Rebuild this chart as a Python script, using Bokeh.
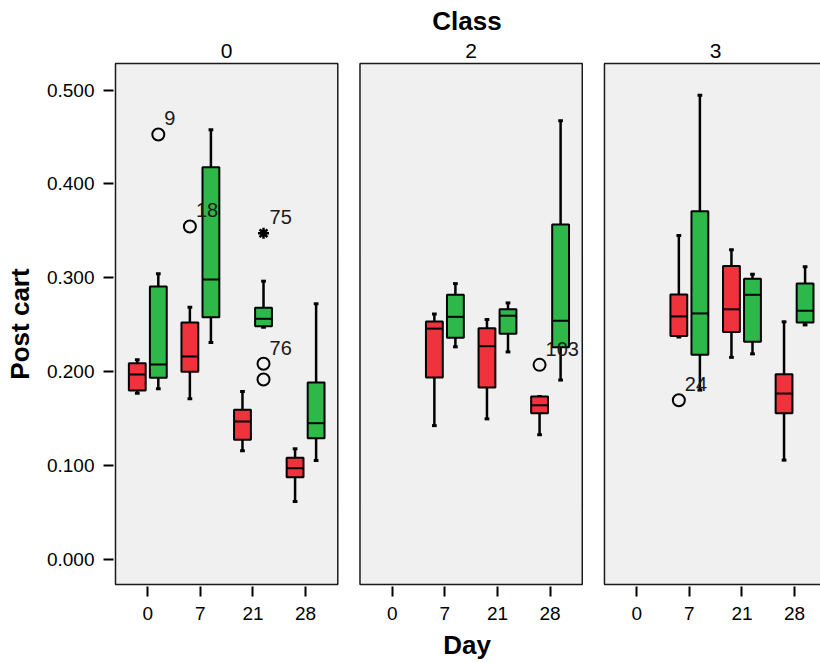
from bokeh.plotting import figure
from bokeh.models import Range1d, FixedTicker, NumeralTickFormatter, LinearAxis, ColumnDataSource
from bokeh.embed import file_html
from bokeh.resources import INLINE
from bokeh.core.properties import value

# ---------------- data ----------------
class_labels = ["0", "2", "3"]
day_labels = ["0", "7", "21", "28"]
group_colors = ["#f0323c", "#2eb84a"]

box_class = [0, 0, 0, 0, 0, 0, 0, 0, 1, 1, 1, 1, 1, 1, 2, 2, 2, 2, 2, 2]
box_day = [0, 0, 1, 1, 2, 2, 3, 3, 1, 1, 2, 2, 3, 3, 1, 1, 2, 2, 3, 3]
box_group = [0, 1, 0, 1, 0, 1, 0, 1, 0, 1, 0, 1, 0, 1, 0, 1, 0, 1, 0, 1]
whisker_low = [0.1768, 0.1814, 0.1708, 0.2308, 0.1154, 0.2471, 0.0613, 0.1050,
               0.1422, 0.2262, 0.1494, 0.2208, 0.1325, 0.1908,
               0.2367, 0.1801, 0.2150, 0.2187, 0.1054, 0.2496]
q1 = [0.1796, 0.1932, 0.1996, 0.2578, 0.1271, 0.2482, 0.0872, 0.1288,
      0.1934, 0.2359, 0.1829, 0.2402, 0.1555, 0.2258,
      0.2377, 0.2179, 0.2420, 0.2316, 0.1555, 0.2521]
median = [0.1967, 0.2074, 0.2159, 0.2980, 0.1466, 0.2561, 0.0968, 0.1448,
          0.2456, 0.2582, 0.2269, 0.2594, 0.1639, 0.2540,
          0.2586, 0.2618, 0.2662, 0.2817, 0.1764, 0.2647]
q3 = [0.2087, 0.2905, 0.2521, 0.4177, 0.1591, 0.2678, 0.1079, 0.1882,
      0.2532, 0.2817, 0.2461, 0.2662, 0.1732, 0.3566,
      0.2821, 0.3707, 0.3124, 0.2989, 0.1970, 0.2936]
whisker_high = [0.2124, 0.3041, 0.2684, 0.4576, 0.1786, 0.2962, 0.1175, 0.2721,
                0.2612, 0.2936, 0.2553, 0.2730, 0.1732, 0.4673,
                0.3448, 0.4943, 0.3296, 0.3036, 0.2529, 0.3116]

out_class = [0, 0, 0, 0, 0, 1, 2]
out_day = [0, 1, 2, 2, 2, 3, 1]
out_group = [1, 0, 1, 1, 1, 0, 0]
out_value = [0.4526, 0.3545, 0.3473, 0.2081, 0.1914, 0.2070, 0.1692]
out_label = ["9", "18", "75", "76", "", "103", "24"]
out_extreme = [False, False, True, False, False, False, False]

y_ticks = [0.0, 0.1, 0.2, 0.3, 0.4, 0.5]

# ---------------- layout constants ----------------
PANEL_STEP = 4.648
PANEL_LO, PANEL_HI = -0.614, 3.612
DODGE = 0.2
BOX_W = 0.32
CAP_HALF = 0.045
FONT = "Liberation Sans"


def xpos(c, d, g):
    return c * PANEL_STEP + d + (DODGE if g == 1 else -DODGE)


bx = [xpos(c, d, g) for c, d, g in zip(box_class, box_day, box_group)]
bcol = [group_colors[g] for g in box_group]
box_src = ColumnDataSource(dict(
    x=bx, x0=[v - BOX_W / 2 for v in bx], x1=[v + BOX_W / 2 for v in bx],
    c0=[v - CAP_HALF for v in bx], c1=[v + CAP_HALF for v in bx],
    lo=whisker_low, q1=q1, med=median, q3=q3, hi=whisker_high, color=bcol))

p = figure(width=820, height=663, output_backend="svg", toolbar_location=None,
           x_range=Range1d(-0.652, 12.789), y_range=Range1d(-0.0293, 0.5304),
           min_border_left=113, min_border_right=0, min_border_top=61, min_border_bottom=77,
           background_fill_color="white", border_fill_color="white")
p.outline_line_color = None
p.xgrid.visible = False
p.ygrid.visible = False

# panels
n = len(class_labels)
p.quad(left=[c * PANEL_STEP + PANEL_LO for c in range(n)],
       right=[c * PANEL_STEP + PANEL_HI for c in range(n)],
       bottom=[-0.0272] * n, top=[0.5283] * n,
       fill_color="#f0f0f0", line_color="#1a1a1a", line_width=1.5)

# whiskers
p.segment(x0="x", x1="x", y0="q3", y1="hi", source=box_src, line_color="black", line_width=2.5)
p.segment(x0="x", x1="x", y0="q1", y1="lo", source=box_src, line_color="black", line_width=2.5)
p.segment(x0="c0", x1="c1", y0="hi", y1="hi", source=box_src, line_color="black", line_width=3)
p.segment(x0="c0", x1="c1", y0="lo", y1="lo", source=box_src, line_color="black", line_width=3)
# boxes
p.vbar(x="x", width=BOX_W, top="q3", bottom="q1", source=box_src,
       fill_color="color", line_color="black", line_width=2)
p.segment(x0="x0", x1="x1", y0="med", y1="med", source=box_src, line_color="black", line_width=2)

# outliers
ox = [xpos(c, d, g) for c, d, g in zip(out_class, out_day, out_group)]
circ = [i for i, e in enumerate(out_extreme) if not e]
ext = [i for i, e in enumerate(out_extreme) if e]
p.scatter(x=[ox[i] for i in circ], y=[out_value[i] for i in circ], marker="circle",
          size=12, fill_color=None, line_color="black", line_width=2)
p.scatter(x=[ox[i] for i in ext], y=[out_value[i] for i in ext], marker="asterisk",
          size=11, line_color="black", line_width=2.5)
p.text(x=ox, y=out_value, text=out_label, x_offset=6, y_offset=-16,
       text_baseline="alphabetic", text_align="left", text_font=value(FONT),
       text_font_size="20px", text_color="#1a1a1a")

# axes
ya = p.yaxis[0]
ya.ticker = FixedTicker(ticks=y_ticks)
ya.formatter = NumeralTickFormatter(format="0.000")
ya.axis_line_color = None
ya.major_tick_out = 10
ya.major_tick_in = 0
ya.major_tick_line_width = 2
ya.minor_tick_line_color = None
ya.major_label_standoff = 9
ya.major_label_text_font = FONT
ya.major_label_text_font_size = "19px"
ya.major_label_text_color = "black"
ya.axis_label = "Post cart"
ya.axis_label_text_font = FONT
ya.axis_label_text_font_size = "26px"
ya.axis_label_text_font_style = "bold"
ya.axis_label_text_color = "black"
ya.axis_label_standoff = 9

xt = [c * PANEL_STEP + d for c in range(n) for d in range(len(day_labels))]
xl = [day_labels[d] for c in range(n) for d in range(len(day_labels))]
xa = p.xaxis[0]
xa.ticker = FixedTicker(ticks=xt)
xa.major_label_overrides = {t: l for t, l in zip(xt, xl)}
xa.axis_line_color = None
xa.major_tick_out = 10
xa.major_tick_in = 0
xa.major_tick_line_width = 2
xa.minor_tick_line_color = None
xa.major_label_standoff = 10
xa.major_label_text_font = FONT
xa.major_label_text_font_size = "19px"
xa.major_label_text_color = "black"
xa.axis_label = "Day"
xa.axis_label_text_font = FONT
xa.axis_label_text_font_size = "26px"
xa.axis_label_text_font_style = "bold"
xa.axis_label_text_color = "black"
xa.axis_label_standoff = 7

ct = [c * PANEL_STEP + (PANEL_LO + PANEL_HI) / 2 for c in range(n)]
ta = LinearAxis(ticker=FixedTicker(ticks=ct),
                major_label_overrides={t: l for t, l in zip(ct, class_labels)})
ta.axis_line_color = None
ta.major_tick_line_color = None
ta.major_tick_out = 0
ta.major_tick_in = 0
ta.minor_tick_line_color = None
ta.major_label_standoff = 4
ta.major_label_text_font = FONT
ta.major_label_text_font_size = "21px"
ta.major_label_text_color = "black"
ta.axis_label = "Class"
ta.axis_label_text_font = FONT
ta.axis_label_text_font_size = "26px"
ta.axis_label_text_font_style = "bold"
ta.axis_label_text_color = "black"
ta.axis_label_standoff = 5
p.add_layout(ta, "above")

open("out.html", "w").write(file_html(p, INLINE))
